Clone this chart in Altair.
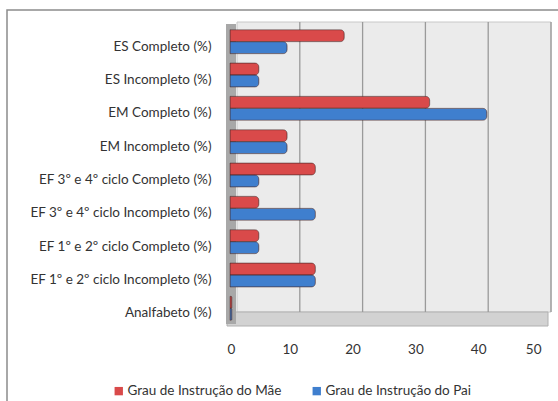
import altair as alt
import pandas as pd

categorias = [
    "ES Completo (%)",
    "ES Incompleto (%)",
    "EM Completo (%)",
    "EM Incompleto (%)",
    "EF 3º e 4º ciclo Completo (%)",
    "EF 3º e 4º ciclo Incompleto (%)",
    "EF 1º e 2º ciclo Completo (%)",
    "EF 1º e 2º ciclo Incompleto (%)",
    "Analfabeto (%)",
]
mae = [18.2, 4.6, 31.8, 9.1, 13.6, 4.6, 4.6, 13.6, 0.3]
pai = [9.1, 4.6, 40.9, 9.1, 4.6, 13.6, 4.6, 13.6, 0.3]
series = ["Grau de Instrução do Mãe", "Grau de Instrução do Pai"]
ticks = [0, 10, 20, 30, 40, 50]
grid_vals = [10, 20, 30, 40, 50]

rows = []
for c, m, p in zip(categorias, mae, pai):
    rows.append({"cat": c, "serie": series[0], "valor": m, "ordem": 0})
    rows.append({"cat": c, "serie": series[1], "valor": p, "ordem": 1})
df = pd.DataFrame(rows)
grid_df = pd.DataFrame({"g": grid_vals})
one = pd.DataFrame({"a": [0]})

FONT = "Lato"
FS = 13.5
W, H = 314, 300

frame = alt.Chart(one).mark_rect(fill="white", stroke="#8c8c8c", strokeWidth=1.5).encode(
    x=alt.value(-223), x2=alt.value(340), y=alt.value(-15), y2=alt.value(390)
)
backwall = alt.Chart(one).mark_rect(fill="#ebebeb", stroke="#c8c8c8").encode(
    x=alt.value(7), x2=alt.value(321), y=alt.value(-3), y2=alt.value(287)
)
floor = alt.Chart(one).mark_rect(fill="#d2d2d2", stroke="#b0b0b0").encode(
    x=alt.value(-3), x2=alt.value(318), y=alt.value(287), y2=alt.value(301)
)
leftwall = alt.Chart(one).mark_rect(fill="#a8a8a8").encode(
    x=alt.value(-4), x2=alt.value(6), y=alt.value(-1), y2=alt.value(299)
)

xscale = alt.Scale(domain=[0, 50], nice=False)
x_axis = alt.Axis(values=ticks, title=None, grid=False, domain=False, ticks=False,
                  labelPadding=17, labelOffset=-3, labelFont=FONT, labelFontSize=FS,
                  labelColor="#333333", format="d", zindex=2)

grid = alt.Chart(grid_df).mark_rule(color="#9a9a9a", strokeWidth=1.3, xOffset=7).encode(
    x=alt.X("g:Q", scale=xscale, axis=x_axis, title=None),
    y=alt.value(-3), y2=alt.value(287),
)

bars = alt.Chart(df).mark_bar(
    cornerRadiusEnd=4, stroke="#4a2a2a", strokeWidth=0.8, strokeOpacity=0.6
).encode(
    x=alt.X("valor:Q", scale=xscale, axis=x_axis, title=None),
    y=alt.Y("cat:N", sort=categorias, scale=alt.Scale(paddingInner=0.28, paddingOuter=0.14),
            axis=alt.Axis(title=None, domain=False, ticks=False, labelPadding=19,
                          labelOffset=5, labelFont=FONT, labelFontSize=FS,
                          labelColor="#333333", labelLimit=260, zindex=2)),
    yOffset=alt.YOffset("ordem:O"),
    color=alt.Color("serie:N", sort=series,
                    scale=alt.Scale(domain=series, range=["#d94a4a", "#3f7fce"]),
                    legend=alt.Legend(title=None, orient="none", legendX=-118, legendY=359,
                                      direction="horizontal", symbolType="square",
                                      symbolSize=70, symbolStrokeWidth=0,
                                      labelFont=FONT, labelFontSize=FS, labelColor="#333333",
                                      columnPadding=28, labelOffset=2, labelLimit=260,
                                      zindex=2)),
)

chart = alt.layer(frame, backwall, floor, leftwall, grid, bars).properties(
    width=W, height=H,
    padding={"left": 230, "top": 25, "right": 14, "bottom": 76},
    autosize=alt.AutoSizeParams(type="none"),
    background="white",
).configure_view(stroke=None)

chart.save("out.html", embed_options={"renderer": "svg", "actions": False})
